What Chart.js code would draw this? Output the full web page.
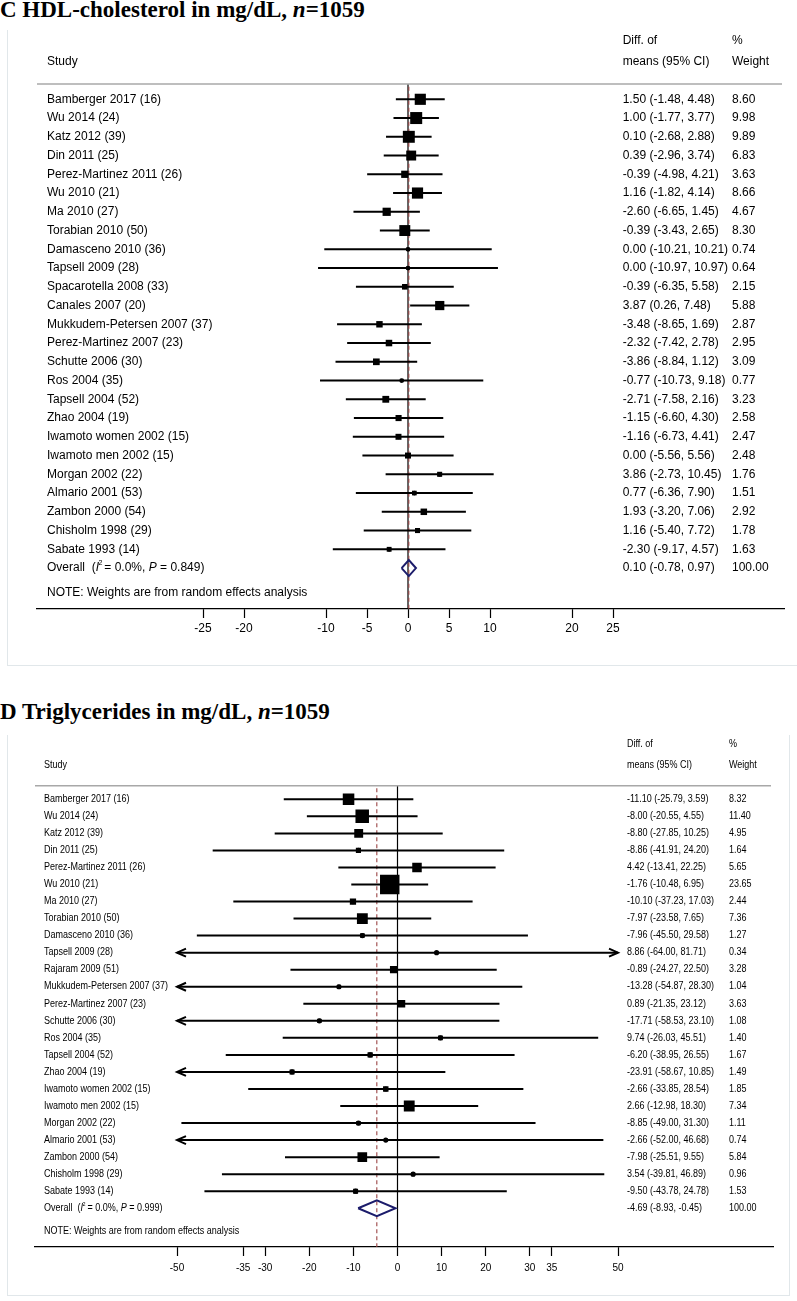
<!DOCTYPE html>
<html><head><meta charset="utf-8">
<script src="https://cdn.jsdelivr.net/npm/chart.js@4.4.1/dist/chart.umd.min.js"></script>
<style>
body{margin:0;background:#fff;width:797px;height:1301px;position:relative;overflow:hidden;}
.title{position:absolute;left:0;font-family:"Liberation Serif","Times New Roman",serif;font-weight:bold;font-size:23px;line-height:23px;white-space:nowrap;color:#000;}
.box{position:absolute;border:1px solid #e1e7ea;}
canvas{position:absolute;left:0;}
</style></head><body>
<div class="title" style="top:-2.5px">C HDL-cholesterol in mg/dL, <i>n</i>=1059</div>
<div class="box" style="left:7px;top:30px;width:820px;height:635px;border-top:none;border-right:none"></div>
<div class="title" style="top:700px">D Triglycerides in mg/dL, <i>n</i>=1059</div>
<div class="box" style="left:7px;top:735px;width:781px;height:560px;border-top:none"></div>
<canvas id="c1" width="797" height="680" style="top:0"></canvas>
<canvas id="c2" width="797" height="611" style="top:690px"></canvas>
<script>
// ---------- Panel C: HDL-cholesterol ----------
const hdlStudies = ["Bamberger 2017 (16)","Wu 2014 (24)","Katz 2012 (39)","Din 2011 (25)","Perez-Martinez 2011 (26)","Wu 2010 (21)","Ma 2010 (27)","Torabian 2010 (50)","Damasceno 2010 (36)","Tapsell 2009 (28)","Spacarotella 2008 (33)","Canales 2007 (20)","Mukkudem-Petersen 2007 (37)","Perez-Martinez 2007 (23)","Schutte 2006 (30)","Ros 2004 (35)","Tapsell 2004 (52)","Zhao 2004 (19)","Iwamoto women 2002 (15)","Iwamoto men 2002 (15)","Morgan 2002 (22)","Almario 2001 (53)","Zambon 2000 (54)","Chisholm 1998 (29)","Sabate 1993 (14)"];
const hdlEst   = [1.50,1.00,0.10,0.39,-0.39,1.16,-2.60,-0.39,0.00,0.00,-0.39,3.87,-3.48,-2.32,-3.86,-0.77,-2.71,-1.15,-1.16,0.00,3.86,0.77,1.93,1.16,-2.30];
const hdlLower = [-1.48,-1.77,-2.68,-2.96,-4.98,-1.82,-6.65,-3.43,-10.21,-10.97,-6.35,0.26,-8.65,-7.42,-8.84,-10.73,-7.58,-6.60,-6.73,-5.56,-2.73,-6.36,-3.20,-5.40,-9.17];
const hdlUpper = [4.48,3.77,2.88,3.74,4.21,4.14,1.45,2.65,10.21,10.97,5.58,7.48,1.69,2.78,1.12,9.18,2.16,4.30,4.41,5.56,10.45,7.90,7.06,7.72,4.57];
const hdlWeight= [8.60,9.98,9.89,6.83,3.63,8.66,4.67,8.30,0.74,0.64,2.15,5.88,2.87,2.95,3.09,0.77,3.23,2.58,2.47,2.48,1.76,1.51,2.92,1.78,1.63];
const hdlOverall = [0.10,-0.78,0.97];
const hdlHet = ["0.0%","0.849"];
const hdlTicks = [-25,-20,-10,-5,0,5,10,20,25];

// ---------- Panel D: Triglycerides ----------
const tgStudies = ["Bamberger 2017 (16)","Wu 2014 (24)","Katz 2012 (39)","Din 2011 (25)","Perez-Martinez 2011 (26)","Wu 2010 (21)","Ma 2010 (27)","Torabian 2010 (50)","Damasceno 2010 (36)","Tapsell 2009 (28)","Rajaram 2009 (51)","Mukkudem-Petersen 2007 (37)","Perez-Martinez 2007 (23)","Schutte 2006 (30)","Ros 2004 (35)","Tapsell 2004 (52)","Zhao 2004 (19)","Iwamoto women 2002 (15)","Iwamoto men 2002 (15)","Morgan 2002 (22)","Almario 2001 (53)","Zambon 2000 (54)","Chisholm 1998 (29)","Sabate 1993 (14)"];
const tgEst   = [-11.10,-8.00,-8.80,-8.86,4.42,-1.76,-10.10,-7.97,-7.96,8.86,-0.89,-13.28,0.89,-17.71,9.74,-6.20,-23.91,-2.66,2.66,-8.85,-2.66,-7.98,3.54,-9.50];
const tgLower = [-25.79,-20.55,-27.85,-41.91,-13.41,-10.48,-37.23,-23.58,-45.50,-64.00,-24.27,-54.87,-21.35,-58.53,-26.03,-38.95,-58.67,-33.85,-12.98,-49.00,-52.00,-25.51,-39.81,-43.78];
const tgUpper = [3.59,4.55,10.25,24.20,22.25,6.95,17.03,7.65,29.58,81.71,22.50,28.30,23.12,23.10,45.51,26.55,10.85,28.54,18.30,31.30,46.68,9.55,46.89,24.78];
const tgWeight= [8.32,11.40,4.95,1.64,5.65,23.65,2.44,7.36,1.27,0.34,3.28,1.04,3.63,1.08,1.40,1.67,1.49,1.85,7.34,1.11,0.74,5.84,0.96,1.53];
const tgOverall = [-4.69,-8.93,-0.45];
const tgHet = ["0.0%","0.999"];
const tgTicks = [-50,-35,-30,-20,-10,0,10,20,30,35,50];
const tgClip = 50;

function fmt(v){ return v.toFixed(2); }

function buildPanel(canvasId, d, g){
  const n = d.studies.length;
  const yMin = -(g.row0 - g.top) / g.rowStep;
  const yMax = yMin + (g.bottom - g.top) / g.rowStep;
  const xMin = (g.left - g.zeroPx) / g.pxPerUnit;
  const xMax = (g.right - g.zeroPx) / g.pxPerUnit;
  const ds = [];
  ds.push({type:'scatter', showLine:true, data:[{x:0,y:yMin},{x:0,y:yMax}], borderColor:'#000', borderWidth:1.2, pointRadius:0, order:20});
  ds.push({type:'scatter', showLine:true, data:[{x:d.overall[0],y:yMin+0.15},{x:d.overall[0],y:yMax}], borderColor:'#9a4444', borderWidth:1.1, borderDash:[4,3], pointRadius:0, order:19});
  for (let i=0;i<n;i++){
    let lo = d.lower[i], hi = d.upper[i];
    const clip = d.clip;
    let clipLo=false, clipHi=false;
    if (clip !== undefined){
      if (lo < -clip){ lo = -clip; clipLo = true; }
      if (hi > clip){ hi = clip; clipHi = true; }
    }
    ds.push({type:'scatter', showLine:true, data:[{x:lo,y:i},{x:hi,y:i}], borderColor:'#000', borderWidth:g.ciWidth, pointRadius:0, borderCapStyle:'butt', order:10});
    const ax = g.arrowPx / g.pxPerUnit, ay = g.arrowHalfPx / g.rowStep;
    if (clipLo) ds.push({type:'scatter', showLine:true, data:[{x:lo+ax,y:i-ay},{x:lo,y:i},{x:lo+ax,y:i+ay}], borderColor:'#000', borderWidth:g.ciWidth, pointRadius:0, order:10});
    if (clipHi) ds.push({type:'scatter', showLine:true, data:[{x:hi-ax,y:i-ay},{x:hi,y:i},{x:hi-ax,y:i+ay}], borderColor:'#000', borderWidth:g.ciWidth, pointRadius:0, order:10});
  }
  ds.push({type:'scatter', data:d.est.map((v,i)=>({x:v,y:i})), pointStyle:'rect',
    pointRadius:d.weight.map(w=> g.boxK*Math.sqrt(w)/Math.SQRT2), backgroundColor:'#000', borderWidth:0, order:3});
  ds.push({type:'scatter', data:d.est.map((v,i)=>({x:v,y:i})), pointStyle:'circle', pointRadius:g.dotR, backgroundColor:'#000', borderWidth:0, order:2});
  const [oe,ol,oh] = d.overall, h = g.diamondHalfPx / g.rowStep;
  ds.push({type:'scatter', showLine:true, data:[{x:ol,y:n},{x:oe,y:n-h},{x:oh,y:n},{x:oe,y:n+h},{x:ol,y:n}],
    borderColor:'#1c1c6b', borderWidth:2, pointRadius:0, fill:false, borderJoinStyle:'miter', order:1});

  const textPlugin = {
    id:'forestText',
    afterDraw(chart){
      const ctx = chart.ctx, ys = chart.scales.y, ca = chart.chartArea;
      ctx.save();
      ctx.strokeStyle = '#a8a8a8'; ctx.lineWidth = 1.5;
      ctx.beginPath(); ctx.moveTo(g.sepLeft, ca.top); ctx.lineTo(g.sepRight, ca.top); ctx.stroke();
      ctx.fillStyle = '#000'; ctx.textBaseline = 'middle'; ctx.textAlign = 'left';
      const fam = '"Liberation Sans", Arial, sans-serif';
      function txt(s, x, y, style){
        ctx.font = (style||'') + ' ' + g.fontPx + 'px ' + fam;
        ctx.save(); ctx.translate(x, y); ctx.scale(g.squeeze, 1); ctx.fillText(s, 0, 0); ctx.restore();
        return ctx.measureText(s).width * g.squeeze;
      }
      txt('Study', g.colStudy, g.hdr2);
      txt('Diff. of', g.colEst, g.hdr1);
      txt('means (95% CI)', g.colEst, g.hdr2);
      txt('%', g.colW, g.hdr1);
      txt('Weight', g.colW, g.hdr2);
      for (let i=0;i<n;i++){
        const y = ys.getPixelForValue(i);
        txt(d.studies[i], g.colStudy, y);
        txt(fmt(d.est[i]) + ' (' + fmt(d.lower[i]) + ', ' + fmt(d.upper[i]) + ')', g.colEst, y);
        txt(fmt(d.weight[i]), g.colW, y);
      }
      const yo = ys.getPixelForValue(n);
      let x = g.colStudy;
      x += txt('Overall  (', x, yo);
      x += txt('I', x, yo, 'italic');
      ctx.font = Math.round(g.fontPx*0.6) + 'px ' + fam;
      ctx.save(); ctx.translate(x-0.5, yo - g.fontPx*0.38); ctx.scale(g.squeeze,1); ctx.fillText('2',0,0); ctx.restore();
      x += 2;
      x += txt(' = ' + d.het[0] + ', ', x, yo);
      x += txt('P', x, yo, 'italic');
      txt(' = ' + d.het[1] + ')', x, yo);
      txt(fmt(d.overall[0]) + ' (' + fmt(d.overall[1]) + ', ' + fmt(d.overall[2]) + ')', g.colEst, yo);
      txt('100.00', g.colW, yo);
      txt('NOTE: Weights are from random effects analysis', g.colStudy, g.noteY);
      ctx.restore();
    }
  };

  return new Chart(document.getElementById(canvasId), {
    data:{datasets:ds},
    options:{
      responsive:false, animation:false, devicePixelRatio:1, events:[],
      layout:{padding:{left:g.left, right:g.width-g.right, top:g.top, bottom:0}},
      plugins:{legend:{display:false}, tooltip:{enabled:false}},
      scales:{
        x:{type:'linear', min:xMin, max:xMax,
          afterBuildTicks:(s)=>{ s.ticks = d.ticks.map(v=>({value:v})); },
          afterFit:(s)=>{ s.height = g.height - g.bottom; },
          grid:{drawOnChartArea:false, drawTicks:true, tickLength:g.tickLen, tickColor:'#000', tickWidth:1.2},
          border:{display:true, color:'#000', width:1.2},
          ticks:{autoSkip:false, maxRotation:0, color:'#000', padding:g.tickPad,
            font:{family:'"Liberation Sans", Arial, sans-serif', size:g.tickFont},
            callback:(v)=>String(v)}
        },
        y:{type:'linear', display:false, reverse:true, min:yMin, max:yMax}
      }
    },
    plugins:[textPlugin]
  });
}

buildPanel('c1',
  {studies:hdlStudies, est:hdlEst, lower:hdlLower, upper:hdlUpper, weight:hdlWeight, overall:hdlOverall, het:hdlHet, ticks:hdlTicks},
  {width:797, height:680, left:37, right:784, top:84, bottom:609, row0:99.3, rowStep:18.75, zeroPx:408, pxPerUnit:8.2,
   ciWidth:2, boxK:3.8, dotR:2.4, diamondHalfPx:8, arrowPx:9, arrowHalfPx:4,
   fontPx:12, squeeze:1, colStudy:47, colEst:622.7, colW:732, hdr1:41, hdr2:62, noteY:593,
   sepLeft:37, sepRight:782, tickLen:9, tickPad:3, tickFont:12});

buildPanel('c2',
  {studies:tgStudies, est:tgEst, lower:tgLower, upper:tgUpper, weight:tgWeight, overall:tgOverall, het:tgHet, ticks:tgTicks, clip:tgClip},
  {width:797, height:611, left:35, right:773, top:95.7, bottom:557, row0:109.3, rowStep:17.04, zeroPx:397.5, pxPerUnit:4.41,
   ciWidth:2, boxK:4.0, dotR:2.6, diamondHalfPx:8, arrowPx:9, arrowHalfPx:4,
   fontPx:10, squeeze:0.9, colStudy:44, colEst:627, colW:729, hdr1:54, hdr2:75, noteY:541,
   sepLeft:35, sepRight:771, tickLen:9, tickPad:6, tickFont:10});
</script>
</body></html>
